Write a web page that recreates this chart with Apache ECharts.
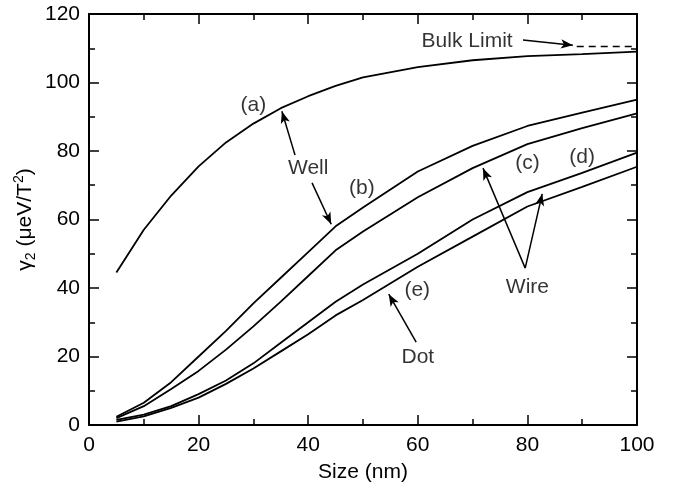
<!DOCTYPE html>
<html>
<head>
<meta charset="utf-8">
<script src="https://cdn.jsdelivr.net/npm/echarts@6/dist/echarts.min.js"></script>
<style>
  html, body { margin: 0; padding: 0; background: #fff; }
  #chart { width: 673px; height: 491px; }
</style>
</head>
<body>
<div id="chart"></div>
<script>
// sizes in nm
var sizes = [5, 10, 15, 20, 25, 30, 35, 40, 45, 50, 60, 70, 80, 90, 100];
// gamma2 values (ueV/T^2)
var wellA = [44.5, 57, 67, 75.5, 82.5, 88, 92.5, 96, 99, 101.5, 104.5, 106.5, 107.7, 108.3, 109];
var wellB = [2.4, 6.5, 12.5, 20, 27.5, 35.5, 43, 50.5, 58, 63.5, 74, 81.5, 87.3, 91.2, 95];
var wireC = [2.0, 5.5, 10.5, 15.8, 22, 28.8, 36, 43.5, 51, 56.5, 66.5, 75, 82, 86.7, 91];
var wireD = [1.5, 3, 5.5, 9, 13, 18, 24, 30, 36, 41, 50, 60, 68, 73.6, 79.5];
var dotE = [1.0, 2.5, 5, 8, 12, 16.5, 21.5, 26.5, 32, 36.5, 46.2, 55, 63.8, 69.5, 75.4];
var bulkX = [89, 100];
var bulkY = [110.5, 110.5];

var xTicks = [0, 20, 40, 60, 80, 100];
var yTicks = [0, 20, 40, 60, 80, 100, 120];

// annotation texts, [x, y, text]
var notes = [
  [30, 93.4, '(a)'],
  [40, 75, 'Well'],
  [49.8, 69.2, '(b)'],
  [80, 76.5, '(c)'],
  [90, 78.2, '(d)'],
  [80, 40.3, 'Wire'],
  [59.9, 39.4, '(e)'],
  [60, 19.9, 'Dot'],
  [69, 112.1, 'Bulk Limit']
];
// arrows, [x0, y0, x1, y1] (tip at x1,y1)
var arrows = [
  [37.6, 78.8, 35.2, 91.6],
  [40.7, 70.7, 44.2, 58.6],
  [79.6, 45.8, 71.9, 75.0],
  [79.6, 45.8, 82.7, 67.5],
  [59.7, 24.2, 54.7, 38.2],
  [79.2, 112.4, 88.3, 110.9]
];

function pairs(xs, ys) {
  var out = [];
  for (var i = 0; i < xs.length; i++) out.push([xs[i], ys[i]]);
  return out;
}

var font = 'Liberation Sans, Arial, sans-serif';
var black = '#000';

function curve(name, ys) {
  return {
    name: name,
    type: 'line',
    data: pairs(sizes, ys),
    symbol: 'none',
    lineStyle: { color: black, width: 1.8 }
  };
}

// frame axis (top / right copies have no labels)
function frameAxis(extra) {
  var ax = {
    type: 'value',
    axisLine: { show: true, onZero: false, lineStyle: { color: black, width: 2 } },
    axisTick: { show: true, inside: true, length: 10, lineStyle: { color: black, width: 1.5 } },
    minorTick: { show: true, splitNumber: 2, length: 6, lineStyle: { color: black, width: 1.5 } },
    axisLabel: { show: false },
    splitLine: { show: false }
  };
  for (var k in extra) ax[k] = extra[k];
  return ax;
}

var chart = echarts.init(document.getElementById('chart'));

var option = {
  backgroundColor: '#fff',
  animation: false,
  grid: { left: 89, right: 36, top: 14, bottom: 66 },
  xAxis: [
    frameAxis({
      min: 0, max: 100, interval: 20, position: 'bottom',
      name: 'Size (nm)', nameLocation: 'middle', nameGap: 37,
      nameTextStyle: { fontFamily: font, fontSize: 21, color: black },
      axisLabel: { show: true, fontFamily: font, fontSize: 21, color: black, margin: 10,
        formatter: function (v) { return xTicks.indexOf(v) >= 0 ? String(v) : ''; } }
    }),
    frameAxis({ min: 0, max: 100, interval: 20, position: 'top' })
  ],
  yAxis: [
    frameAxis({
      min: 0, max: 120, interval: 20, position: 'left',
      name: '{g|γ}{sub|2}{g| (μeV/T}{sup|2}{g|)}',
      nameLocation: 'middle', nameGap: 51, nameRotate: 90, nameMoveOverlap: false,
      nameTextStyle: {
        fontFamily: font, fontSize: 21, color: black,
        rich: {
          g: { fontFamily: font, fontSize: 21, color: black },
          sub: { fontFamily: font, fontSize: 14, color: black, verticalAlign: 'bottom', padding: [12, 0, 0, 0] },
          sup: { fontFamily: font, fontSize: 14, color: black, verticalAlign: 'top', padding: [0, 0, 10, 0] }
        }
      },
      axisLabel: { show: true, fontFamily: font, fontSize: 21, color: black, margin: 9,
        formatter: function (v) { return yTicks.indexOf(v) >= 0 ? String(v) : ''; } }
    }),
    frameAxis({ min: 0, max: 120, interval: 20, position: 'right' })
  ],
  series: [
    curve('(a) Well', wellA),
    curve('(b) Well', wellB),
    curve('(c) Wire', wireC),
    curve('(d) Wire', wireD),
    curve('(e) Dot', dotE),
    {
      name: 'Bulk Limit',
      type: 'line',
      xAxisIndex: 1,
      yAxisIndex: 1,
      data: pairs(bulkX, bulkY),
      symbol: 'none',
      lineStyle: { color: black, width: 1.5, type: [7, 5] }
    },
    {
      name: 'notes',
      type: 'scatter',
      symbolSize: 0,
      data: notes,
      silent: true,
      itemStyle: { color: black },
      label: {
        show: true, position: 'inside',
        fontFamily: font, fontSize: 21, color: black,
        textBorderWidth: 0, textBorderColor: 'transparent',
        formatter: function (p) { return p.value[2]; }
      },
      markLine: {
        silent: true,
        symbol: ['none', 'arrow'],
        symbolSize: [7, 12],
        label: { show: false },
        lineStyle: { color: black, width: 1.5, type: 'solid' },
        data: arrows.map(function (a) {
          return [{ coord: [a[0], a[1]] }, { coord: [a[2], a[3]] }];
        })
      }
    }
  ]
};

chart.setOption(option);
</script>
</body>
</html>
